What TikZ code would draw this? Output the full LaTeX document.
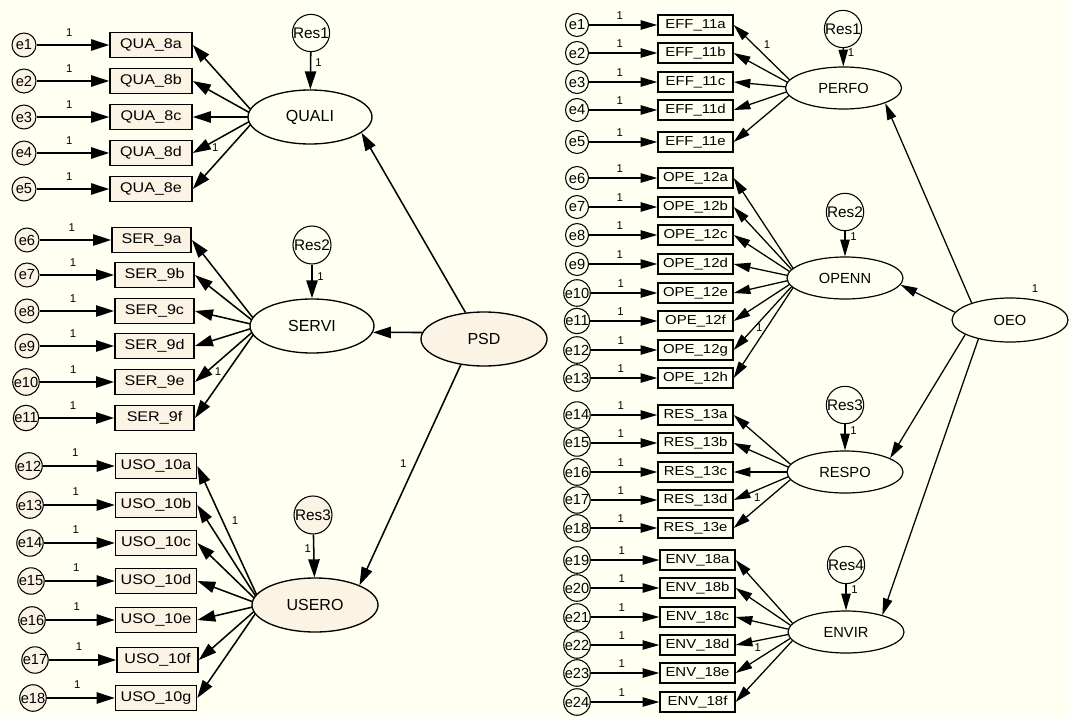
\documentclass[tikz,border=0pt]{standalone}
\usepackage{fontspec}
\setmainfont{Liberation Sans}
\newfontfamily\widesans{Liberation Sans}[FakeStretch=1.15]
\usetikzlibrary{arrows.meta,shapes.geometric,calc}
\definecolor{paper}{HTML}{FFFFF2}
\definecolor{linen}{HTML}{FBF3E4}
\pgfdeclarelayer{back}
\pgfdeclarelayer{wires}
\pgfsetlayers{back,wires,main}
\tikzset{
  connL/.style={line width=1.15pt,-{Triangle[length=13.5pt,width=8.5pt]}},
  connR/.style={line width=0.95pt,-{Triangle[length=12.5pt,width=7pt]}},
  obsL/.style={draw,line width=1.2pt,fill=linen,minimum width=61.5pt,minimum height=18.75pt,
    inner sep=0pt,font=\widesans\fontsize{10.5}{12}\selectfont},
  obsR/.style={draw,line width=1pt,fill=paper,minimum width=56.25pt,minimum height=15pt,
    inner sep=0pt,font=\widesans\fontsize{9.75}{11}\selectfont},
  errL/.style={circle,draw,line width=0.8pt,fill=linen,minimum size=18pt,inner sep=0pt,
    font=\fontsize{11}{12}\selectfont},
  errR/.style={circle,draw,line width=0.8pt,fill=paper,minimum size=17.25pt,inner sep=0pt,
    font=\fontsize{11}{12}\selectfont},
  resL/.style={circle,draw,line width=0.8pt,fill=paper,minimum size=28.5pt,inner sep=0pt,
    font=\fontsize{11.5}{12}\selectfont},
  resR/.style={circle,draw,line width=0.8pt,fill=paper,minimum size=24.75pt,inner sep=0pt,
    font=\fontsize{11.5}{12}\selectfont},
  latL/.style={ellipse,draw,line width=1pt,fill=paper,minimum width=93pt,minimum height=40.5pt,
    inner sep=0pt,font=\fontsize{12}{14}\selectfont},
  latR/.style={ellipse,draw,line width=0.9pt,fill=paper,minimum width=87pt,minimum height=31.5pt,
    inner sep=0pt,font=\fontsize{11}{13}\selectfont},
  one/.style={font=\fontsize{8.5}{9}\selectfont,inner sep=0pt},
}
\begin{document}
\begin{tikzpicture}[x=0.75pt,y=-0.75pt]
\begin{pgfonlayer}{back}
  \fill[paper] (0,0) rectangle (1069,717);
\end{pgfonlayer}
\useasboundingbox (0,0) rectangle (1069,717);

% ---------- left model: PSD ----------
\foreach \n/\m/\y in {1/a/45,2/b/81,3/c/117,4/d/153,5/e/189}{
  \node[errL] (le\n) at (24,\y) {e\n};
  \node[obsL] (q\n) at (151,\y) {QUA\_8\m};
}
\foreach \n/\k/\m/\ex/\bx/\y in {6/1/a/27/151.5/240,7/2/b/27/154.5/275,8/3/c/27/154.5/311,
    9/4/d/27/154.5/346,10/5/e/26/154.5/382,11/6/f/26/154.5/418}{
  \node[errL] (le\n) at (\ex,\y) {e\n};
  \node[obsL,minimum width=59.5pt] (s\k) at (\bx,\y) {SER\_9\m};
}
\foreach \n/\k/\m/\ex/\bx/\y in {12/1/a/29/156/466,13/2/b/30/156/505,14/3/c/30/156/543,
    15/4/d/31/156/581,16/5/e/32/156/620,17/6/f/35/157.5/660,18/7/g/33/156/698}{
  \node[errL] (le\n) at (\ex,\y) {e\n};
  \node[obsL,minimum width=60.75pt] (u\k) at (\bx,\y) {USO\_10\m};
}
\node[latL] (QUALI) at (310,117) {QUALI};
\node[latL] (SERVI) at (312,326) {SERVI};
\node[latL,fill=linen,minimum width=94.5pt] (USERO) at (315,605) {USERO};
\node[latL,fill=linen,minimum width=94.5pt] (PSD) at (484,339) {PSD};
\node[resL,minimum size=27pt] (Res1L) at (311,33) {Res1};
\node[resL] (Res2L) at (312,245) {Res2};
\node[resL,fill=linen] (Res3L) at (313,515) {Res3};

% ---------- right model: OEO ----------
\foreach \n/\m/\y in {1/a/25,2/b/53,3/c/82,4/d/110,5/e/142}{
  \node[errR] (re\n) at (577,\y) {e\n};
  \node[obsR] (f\n) at (695.5,\y) {EFF\_11\m};
}
\foreach \n/\k/\m/\y in {6/1/a/178,7/2/b/207,8/3/c/235,9/4/d/264,10/5/e/293,11/6/f/321,
    12/7/g/350,13/8/h/378}{
  \node[errR] (re\n) at (577,\y) {e\n};
  \node[obsR] (o\k) at (695.5,\y) {OPE\_12\m};
}
\foreach \n/\k/\m/\y in {14/1/a/415,15/2/b/443,16/3/c/472,17/4/d/500,18/5/e/528}{
  \node[errR] (re\n) at (577,\y) {e\n};
  \node[obsR] (r\k) at (695.5,\y) {RES\_13\m};
}
\foreach \n/\k/\m/\y in {19/1/a/560,20/2/b/588,21/3/c/617,22/4/d/645,23/5/e/673,24/6/f/702}{
  \node[errR] (re\n) at (577,\y) {e\n};
  \node[obsR] (v\k) at (697.5,\y) {ENV\_18\m};
}
\node[latR] (PERFO) at (843.5,88) {PERFO};
\node[latR] (OPENN) at (845,278) {OPENN};
\node[latR] (RESPO) at (845,472) {RESPO};
\node[latR] (ENVIR) at (846,632) {ENVIR};
\node[latR,minimum height=33pt] (OEO) at (1010,320) {OEO};
\node[resR] (Res1R) at (843,29) {Res1};
\node[resR] (Res2R) at (845,212) {Res2};
\node[resR] (Res3R) at (845,405) {Res3};
\node[resR] (Res4R) at (846,565) {Res4};
\node[one] (oeovar) at (1035,289) {1};

% ---------- connectors ----------
\begin{pgfonlayer}{wires}
  % fan origins just inside the west tip of each factor
  \coordinate (QUALIsrc) at ($(QUALI.west)+(10,0)$);
  \coordinate (SERVIsrc) at ($(SERVI.west)+(10,0)$);
  \coordinate (USEROsrc) at ($(USERO.west)+(10,0)$);
  \coordinate (PERFOsrc) at ($(PERFO.west)+(13,0)$);
  \coordinate (OPENNsrc) at ($(OPENN.west)+(13,0)$);
  \coordinate (RESPOsrc) at ($(RESPO.west)+(13,0)$);
  \coordinate (ENVIRsrc) at ($(ENVIR.west)+(13,0)$);

  % error terms
  \foreach \n in {1,...,5} \draw[connL] (le\n) -- (q\n.west) node[one,pos=0.45,above=6pt]{1};
  \foreach \n/\k in {6/1,7/2,8/3,9/4,10/5,11/6}
    \draw[connL] (le\n) -- (s\k.west) node[one,pos=0.45,above=6pt]{1};
  \foreach \n/\k in {12/1,13/2,14/3,15/4,16/5,17/6,18/7}
    \draw[connL] (le\n) -- (u\k.west) node[one,pos=0.45,above=6.5pt]{1};
  \foreach \n in {1,...,5} \draw[connR] (re\n) -- (f\n.west) node[one,pos=0.45,above=4pt]{1};
  \foreach \n/\k in {6/1,7/2,8/3,9/4,10/5,11/6,12/7,13/8}
    \draw[connR] (re\n) -- (o\k.west) node[one,pos=0.45,above=4pt]{1};
  \foreach \n/\k in {14/1,15/2,16/3,17/4,18/5}
    \draw[connR] (re\n) -- (r\k.west) node[one,pos=0.45,above=4pt]{1};
  \foreach \n/\k in {19/1,20/2,21/3,22/4,23/5,24/6}
    \draw[connR] (re\n) -- (v\k.west) node[one,pos=0.45,above=4pt]{1};

  % loadings
  \foreach \k in {1,...,5} \draw[connL] (QUALIsrc) -- (q\k.east);
  \foreach \k in {1,...,6} \draw[connL] (SERVIsrc) -- (s\k.east);
  \foreach \k in {1,...,7} \draw[connL] (USEROsrc) -- (u\k.east);
  \foreach \k in {1,...,5} \draw[connR] (PERFOsrc) -- (f\k.east);
  \foreach \k in {1,...,8} \draw[connR] (OPENNsrc) -- (o\k.east);
  \foreach \k in {1,...,5} \draw[connR] (RESPOsrc) -- (r\k.east);
  \foreach \k in {1,...,6} \draw[connR] (ENVIRsrc) -- (v\k.east);
  \path (QUALIsrc) -- (q4.east) node[one,pos=0.65,below=2pt]{1};
  \path (SERVIsrc) -- (s5.east) node[one,pos=0.64,below=4pt]{1};
  \path (USEROsrc) -- (u1.east) node[one,pos=0.61,right=7pt]{1};
  \path (PERFOsrc) -- (f1.east) node[one,pos=0.48,above=7pt]{1};
  \path (OPENNsrc) -- (o7.east) node[one,pos=0.61,below=1.5pt]{1};
  \path (RESPOsrc) -- (r4.east) node[one,pos=0.64,below=2.5pt]{1};
  \path (ENVIRsrc) -- (v4.east) node[one,pos=0.66,below=2pt]{1};

  % disturbances
  \draw[connL] (Res1L) -- (QUALI) node[one,pos=0.28,right=3pt]{1};
  \draw[connL] (Res2L) -- (SERVI) node[one,pos=0.36,right=3.5pt]{1};
  \draw[connL] (Res3L) -- (USERO) node[one,pos=0.32,left=1.5pt]{1};
  \draw[connR] (Res1R) -- (PERFO) node[one,pos=0.24,right=3pt]{1};
  \draw[connR] (Res2R) -- (OPENN) node[one,pos=0.23,right=3.5pt]{1};
  \draw[connR] (Res3R) -- (RESPO) node[one,pos=0.25,right=3.5pt]{1};
  \draw[connR] (Res4R) -- (ENVIR) node[one,pos=0.22,right=3.5pt]{1};

  % structural paths
  \draw[connL] (PSD.125) -- (QUALI.-17);
  \draw[connL] (PSD.174) -- (SERVI.-6);
  \draw[connL] (PSD.228) -- (USERO.24) node[one,pos=0.45,left=6pt]{1};
  \draw[connR] (OEO.156) -- (PERFO.-20);
  \draw[connR] (OEO.172) -- (OPENN.-7);
  \draw[connR] (OEO.198) -- (RESPO.17);
  \draw[connR] (OEO.211) -- (ENVIR.25);
\end{pgfonlayer}
\end{tikzpicture}
\end{document}
